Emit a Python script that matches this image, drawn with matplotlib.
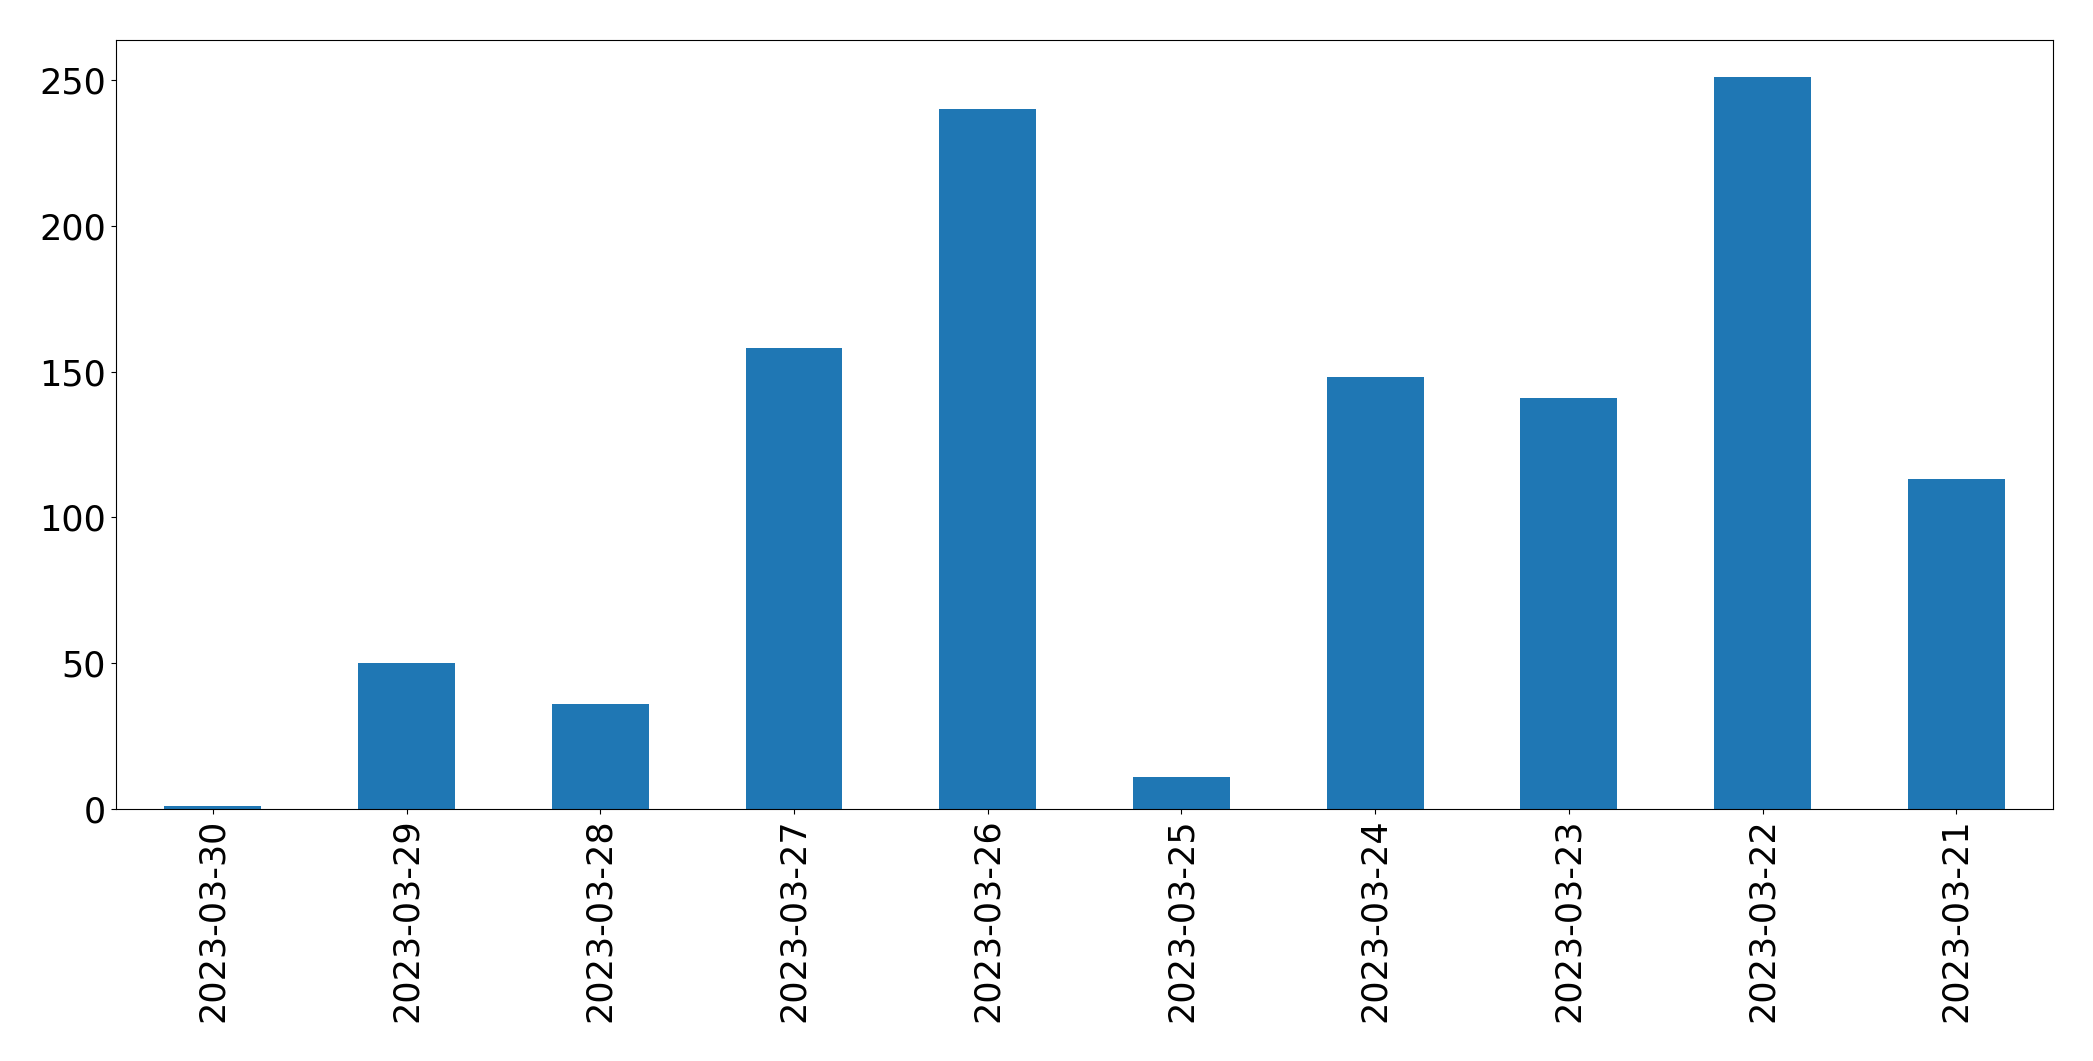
import pandas as pd
import matplotlib
matplotlib.use("Agg")
import matplotlib.pyplot as plt

# daily counts, newest first
dates = ['2023-03-30', '2023-03-29', '2023-03-28', '2023-03-27', '2023-03-26',
         '2023-03-25', '2023-03-24', '2023-03-23', '2023-03-22', '2023-03-21']
counts = [1, 50, 36, 158, 240, 11, 148, 141, 251, 113]

s = pd.Series(counts, index=dates)

fig, ax = plt.subplots(figsize=(20.93, 10.61), dpi=100)
s.plot(kind='bar', ax=ax, color='#1f77b4')

ax.tick_params(axis='both', labelsize=25.2)
plt.setp(ax.get_xticklabels(), rotation=90)

fig.subplots_adjust(left=0.0554, right=0.981, top=0.962, bottom=0.2375)
fig.savefig('out.png', dpi=100)
